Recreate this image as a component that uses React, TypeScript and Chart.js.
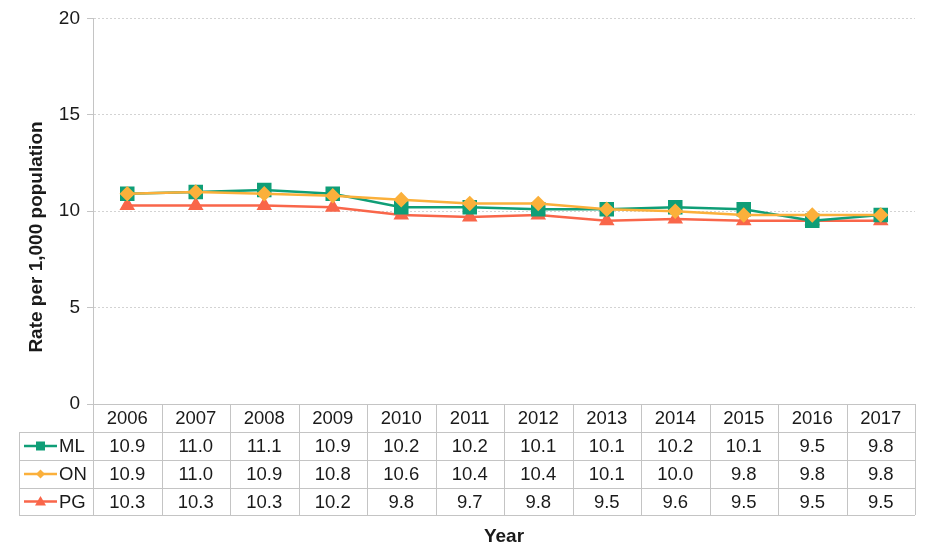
import React, { useEffect, useRef } from 'react';
import { Chart, registerables } from 'chart.js';

Chart.register(...registerables);

const years = ['2006', '2007', '2008', '2009', '2010', '2011', '2012', '2013', '2014', '2015', '2016', '2017'];
const mlValues = [10.9, 11.0, 11.1, 10.9, 10.2, 10.2, 10.1, 10.1, 10.2, 10.1, 9.5, 9.8];
const onValues = [10.9, 11.0, 10.9, 10.8, 10.6, 10.4, 10.4, 10.1, 10.0, 9.8, 9.8, 9.8];
const pgValues = [10.3, 10.3, 10.3, 10.2, 9.8, 9.7, 9.8, 9.5, 9.6, 9.5, 9.5, 9.5];
const seriesNames = ['ML', 'ON', 'PG'];
const yAxisTitle = 'Rate per 1,000 population';
const xAxisTitle = 'Year';

const FONT = '"Liberation Sans", Arial, sans-serif';
const TEXT = '#1a1a1a';
const BORDER = '#c4c4c4';

const tablePlugin = {
  id: 'dataTable',
  afterDraw(chart: any) {
    const ctx: CanvasRenderingContext2D = chart.ctx;
    const xs = chart.scales.x;
    const area = chart.chartArea;
    const n = years.length;
    const colW = (area.right - area.left) / n;
    const top = area.bottom;
    const rowH = [28, 28, 28, 27];
    const rowTops = [top];
    for (let i = 0; i < rowH.length; i++) rowTops.push(rowTops[i] + rowH[i]);
    const legendLeft = 19;
    const px = (v: number) => Math.round(v) + 0.5;

    ctx.save();
    ctx.strokeStyle = BORDER;
    ctx.lineWidth = 1;
    ctx.beginPath();
    // horizontal lines
    ctx.moveTo(area.left, px(rowTops[0]));
    ctx.lineTo(area.right, px(rowTops[0]));
    for (let r = 1; r < rowTops.length; r++) {
      ctx.moveTo(legendLeft, px(rowTops[r]));
      ctx.lineTo(area.right, px(rowTops[r]));
    }
    // vertical lines
    for (let c = 0; c <= n; c++) {
      const x = px(area.left + c * colW);
      ctx.moveTo(x, rowTops[0]);
      ctx.lineTo(x, rowTops[rowTops.length - 1]);
    }
    ctx.moveTo(px(legendLeft), rowTops[1]);
    ctx.lineTo(px(legendLeft), rowTops[rowTops.length - 1]);
    ctx.stroke();

    ctx.fillStyle = TEXT;
    ctx.font = `18.5px ${FONT}`;
    ctx.textAlign = 'center';
    ctx.textBaseline = 'middle';
    years.forEach((y, i) => {
      const cx = xs.getPixelForValue(i);
      ctx.fillText(y, cx, rowTops[0] + rowH[0] / 2 + 1);
    });

    const sets = chart.data.datasets;
    sets.forEach((ds: any, si: number) => {
      const cy = rowTops[si + 1] + rowH[si + 1] / 2 + 1;
      ds.data.forEach((v: number, i: number) => {
        const cx = xs.getPixelForValue(i);
        ctx.fillStyle = TEXT;
        ctx.textAlign = 'center';
        ctx.fillText(v.toFixed(1), cx, cy);
      });
      // legend key
      const ly = cy - 1;
      ctx.strokeStyle = ds.borderColor;
      ctx.lineWidth = 2.5;
      ctx.beginPath();
      ctx.moveTo(24, ly);
      ctx.lineTo(57, ly);
      ctx.stroke();
      ctx.fillStyle = ds.borderColor;
      const style = ds.pointStyle;
      const mx = 40.5;
      ctx.beginPath();
      if (style === 'rect') {
        ctx.rect(mx - 4.5, ly - 4.5, 9, 9);
      } else if (style === 'rectRot') {
        ctx.moveTo(mx, ly - 4.5);
        ctx.lineTo(mx + 4.5, ly);
        ctx.lineTo(mx, ly + 4.5);
        ctx.lineTo(mx - 4.5, ly);
        ctx.closePath();
      } else {
        ctx.moveTo(mx, ly - 5.5);
        ctx.lineTo(mx + 5.5, ly + 4);
        ctx.lineTo(mx - 5.5, ly + 4);
        ctx.closePath();
      }
      ctx.fill();
      ctx.fillStyle = TEXT;
      ctx.textAlign = 'left';
      ctx.fillText(seriesNames[si], 59, cy);
    });

    // axis titles
    ctx.fillStyle = TEXT;
    ctx.font = `bold 19px ${FONT}`;
    ctx.textAlign = 'center';
    ctx.textBaseline = 'middle';
    ctx.fillText(xAxisTitle, (area.left + area.right) / 2, 537);
    ctx.translate(37, 237);
    ctx.rotate(-Math.PI / 2);
    ctx.fillText(yAxisTitle, 0, 0);
    ctx.restore();
  },
};

export default function App() {
  const ref = useRef<HTMLCanvasElement | null>(null);
  useEffect(() => {
    if (!ref.current) return;
    const chart = new Chart(ref.current, {
      type: 'line',
      data: {
        labels: years,
        datasets: [
          {
            label: seriesNames[0],
            data: mlValues,
            borderColor: '#0f9e77',
            backgroundColor: '#0f9e77',
            pointStyle: 'rect',
            pointRadius: 8.5,
            borderWidth: 2.5,
            order: 1,
          },
          {
            label: seriesNames[1],
            data: onValues,
            borderColor: '#fbb03b',
            backgroundColor: '#fbb03b',
            pointStyle: 'rectRot',
            pointRadius: 6,
            borderWidth: 2.5,
            order: 0,
          },
          {
            label: seriesNames[2],
            data: pgValues,
            borderColor: '#f9664a',
            backgroundColor: '#f9664a',
            pointStyle: 'triangle',
            pointRadius: 6.5,
            borderWidth: 2.5,
            order: 2,
          },
        ],
      },
      options: {
        animation: false,
        responsive: false,
        maintainAspectRatio: false,
        layout: { padding: { top: 18, right: 15, bottom: 149, left: 0 } },
        plugins: { legend: { display: false }, tooltip: { enabled: false } },
        scales: {
          x: { type: 'category', offset: true, display: false },
          y: {
            min: 0,
            max: 20,
            ticks: {
              stepSize: 5,
              padding: 7,
              color: TEXT,
              font: { family: FONT, size: 19 },
            },
            grid: {
              color: '#d3d3d3',
              tickLength: 6,
              drawTicks: true,
              tickColor: '#c4c4c4',
            },
            border: { display: true, color: '#c4c4c4', width: 1, dash: [2, 2] },
            afterFit: (s: any) => {
              s.width = 93;
            },
          },
        },
      },
      plugins: [tablePlugin],
    });
    return () => chart.destroy();
  }, []);
  return (
    <div style={{ position: 'fixed', left: 0, top: 0, width: 930, height: 553, background: '#fff' }}>
      <canvas ref={ref} width={930} height={553} style={{ width: 930, height: 553 }} />
    </div>
  );
}
